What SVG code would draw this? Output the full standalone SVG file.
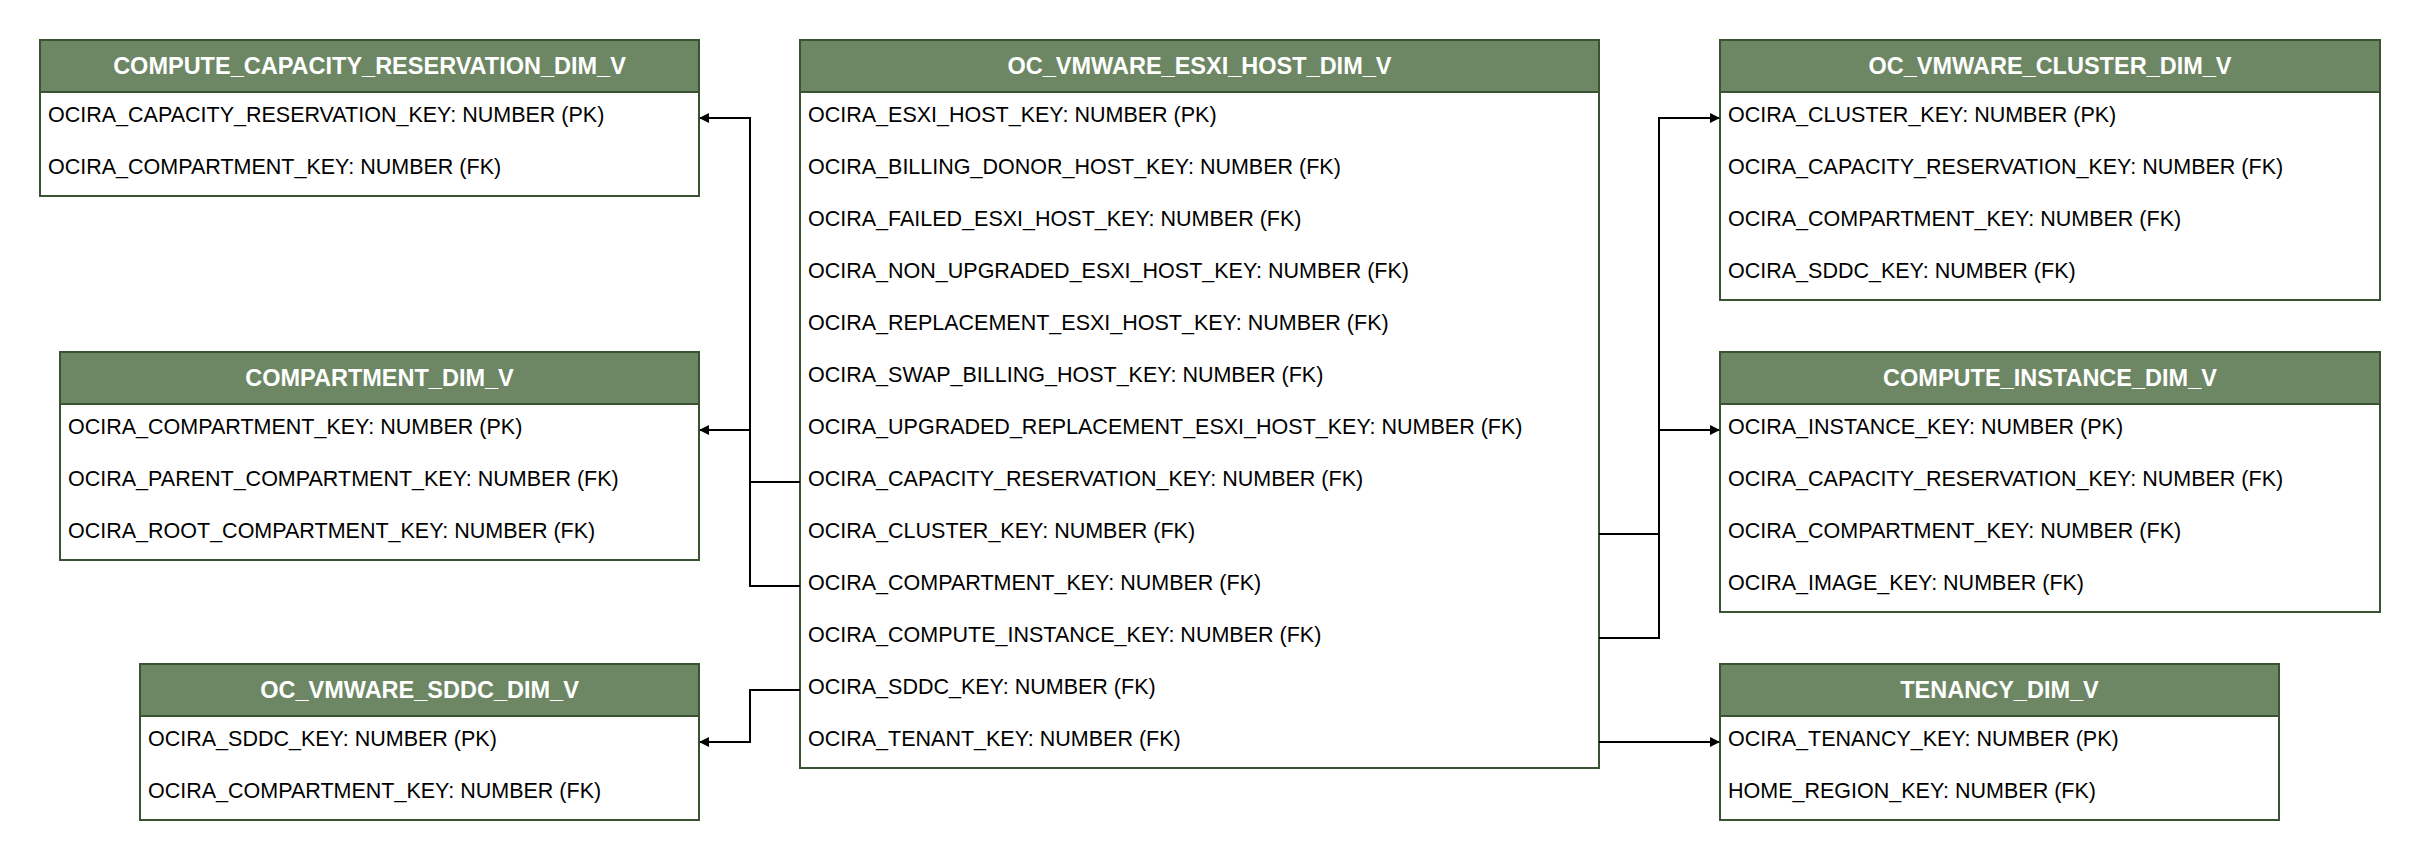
<svg xmlns="http://www.w3.org/2000/svg" width="2420" height="860" viewBox="0 0 2420 860">
<style>
.box{fill:#fff;stroke:#3a5431;stroke-width:2}
.hd{fill:#6d8764;stroke:#3a5431;stroke-width:2}
.ht{font-family:"Liberation Sans",Arial,sans-serif;font-size:23.5px;font-weight:bold;fill:#fff;text-anchor:middle}
.rt{font-family:"Liberation Sans",Arial,sans-serif;font-size:21.5px;fill:#000}
.c{fill:none;stroke:#000;stroke-width:2}
</style>
<defs><marker id="a" markerWidth="10" markerHeight="10" refX="9" refY="5" orient="auto" markerUnits="userSpaceOnUse"><path d="M0,0 L10,5 L0,10 Z" fill="#000"/></marker></defs>
<rect width="2420" height="860" fill="#fff"/>
<g id="ccr">
<rect class="box" x="40" y="40" width="659" height="156"/><rect class="hd" x="40" y="40" width="659" height="52"/>
<text class="ht" x="369.5" y="74">COMPUTE_CAPACITY_RESERVATION_DIM_V</text>
<text class="rt" x="48" y="122">OCIRA_CAPACITY_RESERVATION_KEY: NUMBER (PK)</text>
<text class="rt" x="48" y="174">OCIRA_COMPARTMENT_KEY: NUMBER (FK)</text>
</g>
<g id="host">
<rect class="box" x="800" y="40" width="799" height="728"/><rect class="hd" x="800" y="40" width="799" height="52"/>
<text class="ht" x="1199.5" y="74">OC_VMWARE_ESXI_HOST_DIM_V</text>
<text class="rt" x="808" y="122">OCIRA_ESXI_HOST_KEY: NUMBER (PK)</text>
<text class="rt" x="808" y="174">OCIRA_BILLING_DONOR_HOST_KEY: NUMBER (FK)</text>
<text class="rt" x="808" y="226">OCIRA_FAILED_ESXI_HOST_KEY: NUMBER (FK)</text>
<text class="rt" x="808" y="278">OCIRA_NON_UPGRADED_ESXI_HOST_KEY: NUMBER (FK)</text>
<text class="rt" x="808" y="330">OCIRA_REPLACEMENT_ESXI_HOST_KEY: NUMBER (FK)</text>
<text class="rt" x="808" y="382">OCIRA_SWAP_BILLING_HOST_KEY: NUMBER (FK)</text>
<text class="rt" x="808" y="434">OCIRA_UPGRADED_REPLACEMENT_ESXI_HOST_KEY: NUMBER (FK)</text>
<text class="rt" x="808" y="486">OCIRA_CAPACITY_RESERVATION_KEY: NUMBER (FK)</text>
<text class="rt" x="808" y="538">OCIRA_CLUSTER_KEY: NUMBER (FK)</text>
<text class="rt" x="808" y="590">OCIRA_COMPARTMENT_KEY: NUMBER (FK)</text>
<text class="rt" x="808" y="642">OCIRA_COMPUTE_INSTANCE_KEY: NUMBER (FK)</text>
<text class="rt" x="808" y="694">OCIRA_SDDC_KEY: NUMBER (FK)</text>
<text class="rt" x="808" y="746">OCIRA_TENANT_KEY: NUMBER (FK)</text>
</g>
<g id="cluster">
<rect class="box" x="1720" y="40" width="660" height="260"/><rect class="hd" x="1720" y="40" width="660" height="52"/>
<text class="ht" x="2050" y="74">OC_VMWARE_CLUSTER_DIM_V</text>
<text class="rt" x="1728" y="122">OCIRA_CLUSTER_KEY: NUMBER (PK)</text>
<text class="rt" x="1728" y="174">OCIRA_CAPACITY_RESERVATION_KEY: NUMBER (FK)</text>
<text class="rt" x="1728" y="226">OCIRA_COMPARTMENT_KEY: NUMBER (FK)</text>
<text class="rt" x="1728" y="278">OCIRA_SDDC_KEY: NUMBER (FK)</text>
</g>
<g id="compartment">
<rect class="box" x="60" y="352" width="639" height="208"/><rect class="hd" x="60" y="352" width="639" height="52"/>
<text class="ht" x="379.5" y="386">COMPARTMENT_DIM_V</text>
<text class="rt" x="68" y="434">OCIRA_COMPARTMENT_KEY: NUMBER (PK)</text>
<text class="rt" x="68" y="486">OCIRA_PARENT_COMPARTMENT_KEY: NUMBER (FK)</text>
<text class="rt" x="68" y="538">OCIRA_ROOT_COMPARTMENT_KEY: NUMBER (FK)</text>
</g>
<g id="instance">
<rect class="box" x="1720" y="352" width="660" height="260"/><rect class="hd" x="1720" y="352" width="660" height="52"/>
<text class="ht" x="2050" y="386">COMPUTE_INSTANCE_DIM_V</text>
<text class="rt" x="1728" y="434">OCIRA_INSTANCE_KEY: NUMBER (PK)</text>
<text class="rt" x="1728" y="486">OCIRA_CAPACITY_RESERVATION_KEY: NUMBER (FK)</text>
<text class="rt" x="1728" y="538">OCIRA_COMPARTMENT_KEY: NUMBER (FK)</text>
<text class="rt" x="1728" y="590">OCIRA_IMAGE_KEY: NUMBER (FK)</text>
</g>
<g id="sddc">
<rect class="box" x="140" y="664" width="559" height="156"/><rect class="hd" x="140" y="664" width="559" height="52"/>
<text class="ht" x="419.5" y="698">OC_VMWARE_SDDC_DIM_V</text>
<text class="rt" x="148" y="746">OCIRA_SDDC_KEY: NUMBER (PK)</text>
<text class="rt" x="148" y="798">OCIRA_COMPARTMENT_KEY: NUMBER (FK)</text>
</g>
<g id="tenancy">
<rect class="box" x="1720" y="664" width="559" height="156"/><rect class="hd" x="1720" y="664" width="559" height="52"/>
<text class="ht" x="1999.5" y="698">TENANCY_DIM_V</text>
<text class="rt" x="1728" y="746">OCIRA_TENANCY_KEY: NUMBER (PK)</text>
<text class="rt" x="1728" y="798">HOME_REGION_KEY: NUMBER (FK)</text>
</g>
<g id="connectors">
<path class="c" marker-end="url(#a)" d="M800,482 H750 V118 H700"/>
<path class="c" marker-end="url(#a)" d="M800,586 H750 V430 H700"/>
<path class="c" marker-end="url(#a)" d="M800,690 H750 V742 H700"/>
<path class="c" marker-end="url(#a)" d="M1599,534 H1659 V118 H1719"/>
<path class="c" marker-end="url(#a)" d="M1599,638 H1659 V430 H1719"/>
<path class="c" marker-end="url(#a)" d="M1599,742 H1719"/>
</g>
</svg>
